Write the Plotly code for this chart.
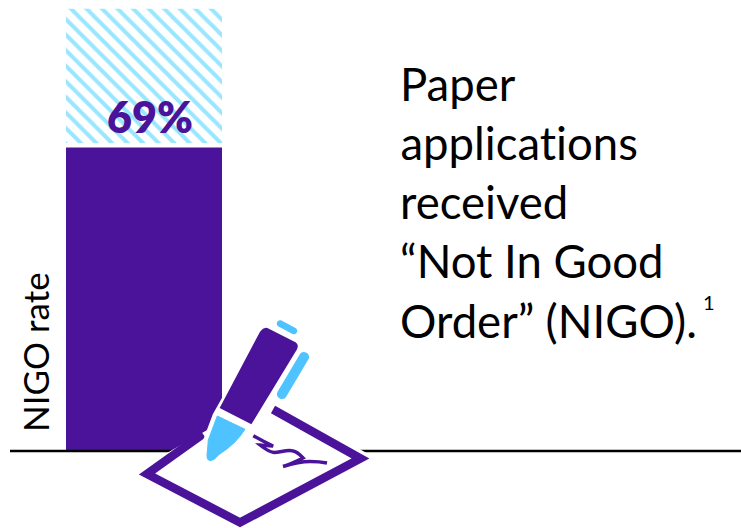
import math
import plotly.graph_objects as go

# Chart values
categories = ["NIGO rate"]
nigo_pct = [69]
remainder_pct = [30.5]
value_labels = ["69%"]
message_lines = ["Paper", "applications", "received", "“Not In Good", "Order” (NIGO)."]

PURPLE = "#4A1399"
SKY = "#4FC3FF"
HATCH = "#99E6FF"
FONT = "Lato"

fig = go.Figure()

# Hatched remainder sits above the solid rate with a small white gap
fig.add_trace(go.Bar(
    x=[144], y=remainder_pct, base=[70], width=[156],
    marker=dict(color="white", line_width=0,
                pattern=dict(shape="\\", size=11, solidity=0.36,
                             fgcolor=HATCH, bgcolor="white", fgopacity=1)),
    hoverinfo="skip", showlegend=False,
))
fig.add_trace(go.Bar(
    x=[144], y=nigo_pct, base=[0], width=[156],
    marker=dict(color=PURPLE, line_width=0),
    name=categories[0], showlegend=False,
))

# Overlay axes measured in canvas units, used for the pen-and-form icon
px = dict(xref="x2", yref="y2", layer="above")


def poly(path, fill, line=None, width=0):
    fig.add_shape(type="path", path=path, fillcolor=fill,
                  line=dict(color=line or fill, width=width), **px)


def stroke(path, color, width):
    fig.add_shape(type="path", path=path, line=dict(color=color, width=width), **px)


def capsule(x0, y0, x1, y1, width, color):
    """Filled bar with rounded ends between two points."""
    length = math.hypot(x1 - x0, y1 - y0)
    dx, dy = (x1 - x0) / length, (y1 - y0) / length
    r = width / 2
    nx, ny = -dy * r, dx * r
    ex, ey = dx * r * 1.33, dy * r * 1.33
    path = (f"M{x0 + nx:.1f},{y0 + ny:.1f} L{x1 + nx:.1f},{y1 + ny:.1f} "
            f"C{x1 + nx + ex:.1f},{y1 + ny + ey:.1f} {x1 - nx + ex:.1f},{y1 - ny + ey:.1f} "
            f"{x1 - nx:.1f},{y1 - ny:.1f} L{x0 - nx:.1f},{y0 - ny:.1f} "
            f"C{x0 - nx - ex:.1f},{y0 - ny - ey:.1f} {x0 + nx - ex:.1f},{y0 + ny - ey:.1f} "
            f"{x0 + nx:.1f},{y0 + ny:.1f} Z")
    poly(path, color)


# Baseline
fig.add_shape(type="line", x0=10, x1=741, y0=451, y1=451,
              line=dict(color="black", width=2.5), **px)

# Form sheet
poly("M130,474 L240,536 L377,459 L267,396 Z", "white")
stroke("M203,434 L147,474 L240,522.5 L360.5,458.5 L273,409.5", PURPLE, 8.5)

# Pen halo, barrel and tip
pen_outline = ("M265,331 L295,345 L250,422 L245,429 L233,443 L218,455 "
               "L212,461 L207,458 L208,440 L217,416 Z")
poly(pen_outline, "white", "white", 9)
poly("M267,329 Q264,328 261,332 L221,407.5 L251,423 L296,349 Q298,345 295,343 Z",
     PURPLE, PURPLE, 2)
poly("M217.3,416 L245,429.3 Q236,444 218.3,455 Q214,461 209,460.5 Q206,459 207.5,450 "
     "L208.3,440 Z", SKY, SKY, 1)
capsule(280, 323.5, 294, 331, 6.5, SKY)
capsule(304, 357, 282, 394, 10, SKY)

# Signature
stroke("M253.3,435.7 L263,441 L273,446 C267,446 263,445 260,445 C265,449 270,452 274,452.5 "
       "C280,452.5 288,449 293,451 C298,452 301,456 303,458 C297,461 288,465 283,466.5 "
       "C291,464 300,461.5 310,461.5 C316,461.5 322,462 327,463", PURPLE, 3.5)

# Value label over the hatching
fig.add_trace(go.Scatter(
    x=[150], y=[74.7], mode="text", text=value_labels,
    textfont=dict(family=FONT, size=43, color=PURPLE, weight=800),
    hoverinfo="skip", showlegend=False,
))

# Rotated axis label
fig.add_annotation(x=35, y=352, xref="x2", yref="y2", text=categories[0], textangle=-90,
                   showarrow=False, font=dict(family=FONT, size=35, color="black"))

# Message block, one annotation per line
for i, line in enumerate(message_lines):
    fig.add_annotation(x=398, y=83 + i * 59.3, xref="x2", yref="y2", text=line,
                       xanchor="left", yanchor="middle", showarrow=False,
                       font=dict(family=FONT, size=45.5, color="black"))
fig.add_annotation(x=709, y=302, xref="x2", yref="y2", text="1", showarrow=False,
                   font=dict(family=FONT, size=20, color="black"))

fig.update_layout(
    width=741, height=528, autosize=False,
    margin=dict(l=0, r=0, t=0, b=0, pad=0),
    paper_bgcolor="white", plot_bgcolor="white",
    barmode="overlay",
    xaxis=dict(range=[0, 741], visible=False, fixedrange=True),
    yaxis=dict(range=[-77 / 4.4, 451 / 4.4], visible=False, fixedrange=True),
    xaxis2=dict(range=[0, 741], visible=False, overlaying="x", fixedrange=True),
    yaxis2=dict(range=[528, 0], visible=False, overlaying="y", fixedrange=True),
)
# Plain letterforms throughout, without the font's "ti" ligature
fig.write_html("out.html", config=dict(displayModeBar=False),
               post_script="document.querySelectorAll('text').forEach("
                           "t => t.style.fontVariantLigatures = 'none');")
